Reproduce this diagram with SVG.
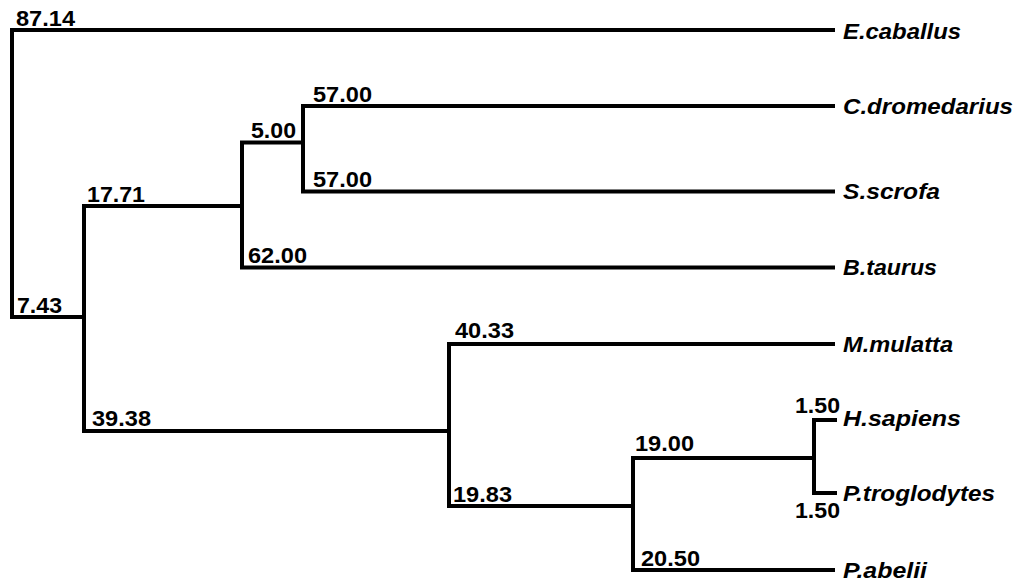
<svg xmlns="http://www.w3.org/2000/svg" width="1024" height="588" viewBox="0 0 1024 588">
<style>
.br{fill:none;stroke:#000;stroke-width:4;stroke-linejoin:miter}
.num{font-family:"Liberation Sans",Arial,sans-serif;font-weight:bold;font-size:22px;fill:#000}
.leaf{font-family:"Liberation Sans",Arial,sans-serif;font-weight:bold;font-style:italic;font-size:22px;fill:#000}
</style>
<rect width="1024" height="588" fill="#fff"/>
<g id="connectors">
<path class="br" d="M835 30 H12 V317 H84"/>
<path class="br" d="M242 206 H84 V431 H449"/>
<path class="br" d="M303 142.5 H242 V267.5 H835"/>
<path class="br" d="M835 106 H303 V191.5 H835"/>
<path class="br" d="M835 344 H449 V506 H633"/>
<path class="br" d="M814 458 H633 V570 H835"/>
<path class="br" d="M837 420 H814 V493 H837"/>
</g>
<g id="branch-labels">
<text class="num" x="16" y="26" textLength="59" lengthAdjust="spacingAndGlyphs">87.14</text>
<text class="num" x="17" y="313" textLength="45" lengthAdjust="spacingAndGlyphs">7.43</text>
<text class="num" x="87" y="202" textLength="58" lengthAdjust="spacingAndGlyphs">17.71</text>
<text class="num" x="251" y="138" textLength="45" lengthAdjust="spacingAndGlyphs">5.00</text>
<text class="num" x="313" y="102" textLength="59" lengthAdjust="spacingAndGlyphs">57.00</text>
<text class="num" x="313" y="187" textLength="59" lengthAdjust="spacingAndGlyphs">57.00</text>
<text class="num" x="248" y="263" textLength="59" lengthAdjust="spacingAndGlyphs">62.00</text>
<text class="num" x="92" y="426" textLength="59" lengthAdjust="spacingAndGlyphs">39.38</text>
<text class="num" x="455" y="338" textLength="59" lengthAdjust="spacingAndGlyphs">40.33</text>
<text class="num" x="453" y="502" textLength="59" lengthAdjust="spacingAndGlyphs">19.83</text>
<text class="num" x="635" y="451" textLength="59" lengthAdjust="spacingAndGlyphs">19.00</text>
<text class="num" x="641" y="566" textLength="59" lengthAdjust="spacingAndGlyphs">20.50</text>
<text class="num" x="795" y="413" textLength="45" lengthAdjust="spacingAndGlyphs">1.50</text>
<text class="num" x="795" y="518" textLength="45" lengthAdjust="spacingAndGlyphs">1.50</text>
</g>
<g id="leaf-Ecaballus"><text class="leaf" x="843" y="39" textLength="118" lengthAdjust="spacingAndGlyphs">E.caballus</text></g>
<g id="leaf-Cdromedarius"><text class="leaf" x="843" y="114" textLength="170" lengthAdjust="spacingAndGlyphs">C.dromedarius</text></g>
<g id="leaf-Sscrofa"><text class="leaf" x="843" y="199" textLength="97" lengthAdjust="spacingAndGlyphs">S.scrofa</text></g>
<g id="leaf-Btaurus"><text class="leaf" x="843" y="275" textLength="94" lengthAdjust="spacingAndGlyphs">B.taurus</text></g>
<g id="leaf-Mmulatta"><text class="leaf" x="843" y="352" textLength="110" lengthAdjust="spacingAndGlyphs">M.mulatta</text></g>
<g id="leaf-Hsapiens"><text class="leaf" x="843" y="426" textLength="118" lengthAdjust="spacingAndGlyphs">H.sapiens</text></g>
<g id="leaf-Ptroglodytes"><text class="leaf" x="843" y="501" textLength="152" lengthAdjust="spacingAndGlyphs">P.troglodytes</text></g>
<g id="leaf-Pabelii"><text class="leaf" x="843" y="578" textLength="84" lengthAdjust="spacingAndGlyphs">P.abelii</text></g>
</svg>
